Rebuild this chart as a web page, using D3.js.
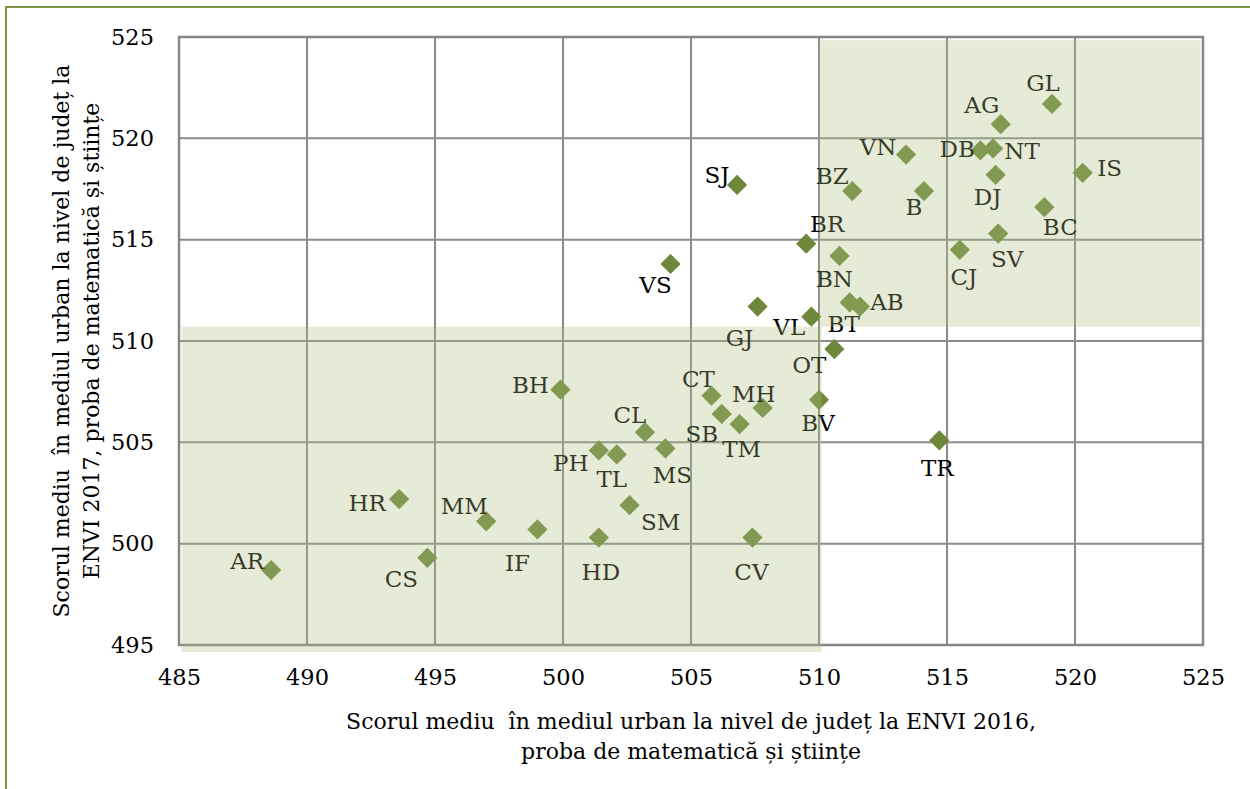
<!DOCTYPE html>
<html>
<head>
<meta charset="utf-8">
<script src="https://cdn.jsdelivr.net/npm/d3@7"></script>
<style>
  html, body { margin: 0; padding: 0; background: #fff; }
  svg text { font-family: "DejaVu Serif", "Liberation Serif", serif; white-space: pre; }
</style>
</head>
<body>
<svg id="chart" width="1250" height="789"></svg>
<script>
// County codes and their mean urban scores (ENVI 2016 vs ENVI 2017, mathematics & science)
const counties = ["AR","CS","HR","MM","IF","HD","BH","PH","TL","CL","MS","SM","CT","SB","TM","MH","CV","BV","OT","TR",
                  "VS","GJ","VL","BT","AB","BN","BR","SJ","BZ","B","VN","AG","GL","DB","NT","DJ","IS","BC","SV","CJ"];
const score2016 = [488.6,494.7,493.6,497.0,499.0,501.4,499.9,501.4,502.1,503.2,504.0,502.6,505.8,506.2,506.9,507.8,507.4,510.0,510.6,514.7,
                   504.2,507.6,509.7,511.2,511.6,510.8,509.5,506.8,511.3,514.1,513.4,517.1,519.1,516.3,516.8,516.9,520.3,518.8,517.0,515.5];
const score2017 = [498.7,499.3,502.2,501.1,500.7,500.3,507.6,504.6,504.4,505.5,504.7,501.9,507.3,506.4,505.9,506.7,500.3,507.1,509.6,505.1,
                   513.8,511.7,511.2,511.9,511.7,514.2,514.8,517.7,517.4,517.4,519.2,520.7,521.7,519.4,519.5,518.2,518.3,516.6,515.3,514.5];

// Axis ticks
const xTicks = [485,490,495,500,505,510,515,520,525];
const yTicks = [495,500,505,510,515,520,525];

// Highlighted zones (above-average and below-average in both years), in score units
const zoneX0 = [510.0, 485.1];
const zoneX1 = [524.9, 510.1];
const zoneY0 = [510.7, 494.65];
const zoneY1 = [524.85, 510.7];

// Label placement relative to each marker (pixels)
const labelOffset = {
  AR:[-24,-9], CS:[-26,21], HR:[-32,4], MM:[-22,-15], IF:[-20,34], HD:[2,34], BH:[-30,-5], PH:[-28,13],
  TL:[-5,25], CL:[-15,-17], MS:[7,27], SM:[31,17], CT:[-13,-17], SB:[-20,20], TM:[2,25], MH:[-9,-14],
  CV:[-1,34], BV:[-1,23], OT:[-25,16], TR:[-2,28], VS:[-15,21], GJ:[-18,31], VL:[-22,10], BT:[-6,22],
  AB:[27,-5], BN:[-5,23], BR:[21,-20], SJ:[-20,-10], BZ:[-20,-15], B:[-10,16], VN:[-28,-8], AG:[-19,-19],
  GL:[-9,-21], DB:[-23,-1], NT:[29,3], DJ:[-8,22], IS:[27,-5], BC:[16,20], SV:[9,25], CJ:[4,27]
};

const svg = d3.select("#chart");
const W = 1250, H = 789;
const plot = { left: 179, right: 1203, top: 37, bottom: 645 };

svg.append("rect").attr("width", W).attr("height", H).attr("fill", "#fff");

// Outer frame (top and left edges)
svg.append("path")
  .attr("d", `M6,${H} L6,7 L${W},7`)
  .attr("fill", "none").attr("stroke", "#7b9542").attr("stroke-width", 2);

const x = d3.scaleLinear().domain([485, 525]).range([plot.left, plot.right]);
const y = d3.scaleLinear().domain([495, 525]).range([plot.bottom, plot.top]);

// Gridlines
const grid = svg.append("g");
grid.selectAll("line.vx").data(xTicks).join("line")
  .attr("x1", d => x(d)).attr("x2", d => x(d))
  .attr("y1", plot.top).attr("y2", plot.bottom)
  .attr("stroke", "#8c8c8c").attr("stroke-width", 2);
grid.selectAll("line.hy").data(yTicks).join("line")
  .attr("x1", plot.left).attr("x2", plot.right)
  .attr("y1", d => y(d)).attr("y2", d => y(d))
  .attr("stroke", "#8c8c8c").attr("stroke-width", 2);

// Plot frame
svg.append("rect")
  .attr("x", plot.left).attr("y", plot.top)
  .attr("width", plot.right - plot.left).attr("height", plot.bottom - plot.top)
  .attr("fill", "none").attr("stroke", "#868686").attr("stroke-width", 2.5);

// Axes (tick labels only)
const xAxis = d3.axisBottom(x).tickValues(xTicks).tickSize(0).tickPadding(24).tickFormat(d3.format("d"));
const gx = svg.append("g").attr("transform", `translate(0,${plot.bottom})`).call(xAxis);
gx.select(".domain").remove();
gx.selectAll("text").attr("font-size", 22.5).attr("fill", "#000").attr("font-family", "DejaVu Serif");

const yAxis = d3.axisLeft(y).tickValues(yTicks).tickSize(0).tickPadding(25).tickFormat(d3.format("d"));
const gy = svg.append("g").attr("transform", `translate(${plot.left},0)`).call(yAxis);
gy.select(".domain").remove();
gy.selectAll("text").attr("font-size", 22.5).attr("fill", "#000").attr("font-family", "DejaVu Serif");

// Markers
const pts = counties.map((c, i) => ({ code: c, x: score2016[i], y: score2017[i] }));
const diamond = d3.symbol().type(d3.symbolSquare).size(205);
svg.append("g").selectAll("path").data(pts).join("path")
  .attr("d", diamond)
  .attr("transform", d => `translate(${x(d.x)},${y(d.y)}) rotate(45)`)
  .attr("fill", "#6d883a");

// Marker labels
svg.append("g").selectAll("text").data(pts).join("text")
  .attr("x", d => x(d.x) + labelOffset[d.code][0])
  .attr("y", d => y(d.y) + labelOffset[d.code][1])
  .attr("text-anchor", "middle")
  .attr("dominant-baseline", "central")
  .attr("font-size", 23)
  .attr("fill", "#000")
  .text(d => d.code);

// Translucent highlight zones laid over the plot
svg.append("g").selectAll("rect").data(zoneX0.map((v, i) => i)).join("rect")
  .attr("x", i => x(zoneX0[i]))
  .attr("y", i => y(zoneY1[i]))
  .attr("width", i => x(zoneX1[i]) - x(zoneX0[i]))
  .attr("height", i => y(zoneY0[i]) - y(zoneY1[i]))
  .attr("fill", "rgb(174,190,129)")
  .attr("fill-opacity", 0.31);

// Axis titles
const xt = svg.append("text").attr("text-anchor", "middle").attr("font-size", 22).attr("fill", "#000");
xt.append("tspan").attr("x", (plot.left + plot.right) / 2).attr("y", 729)
  .text("Scorul mediu  în mediul urban la nivel de județ la ENVI 2016,");
xt.append("tspan").attr("x", (plot.left + plot.right) / 2).attr("y", 759)
  .text("proba de matematică și științe");

const cy = (plot.top + plot.bottom) / 2;
const yt = svg.append("text").attr("text-anchor", "middle").attr("font-size", 22).attr("fill", "#000")
  .attr("transform", `rotate(-90)`);
yt.append("tspan").attr("x", -cy).attr("y", 69)
  .text("Scorul mediu  în mediul urban la nivel de județ la");
yt.append("tspan").attr("x", -cy).attr("y", 99)
  .text("ENVI 2017, proba de matematică și științe");
</script>
</body>
</html>
